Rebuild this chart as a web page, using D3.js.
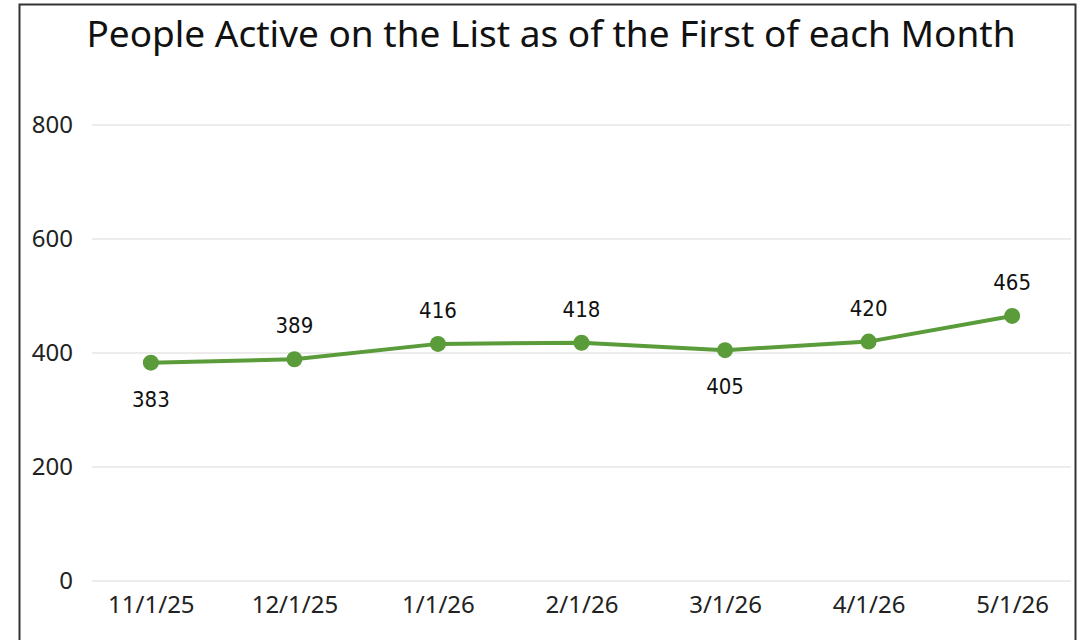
<!DOCTYPE html>
<html>
<head>
<meta charset="utf-8">
<script src="https://cdn.jsdelivr.net/npm/d3@7"></script>
<style>
	body { margin: 0; background: #fff; }
	svg { display: block; }
</style>
</head>
<body>
<script>
let months = ['11/1/25', '12/1/25', '1/1/26', '2/1/26', '3/1/26', '4/1/26', '5/1/26']
let active = [383, 389, 416, 418, 405, 420, 465]
// which side each data label sits on
let labelSide = ['below', 'above', 'above', 'above', 'below', 'above', 'above']
let yTicks = [0, 200, 400, 600, 800]

let width = 1084, height = 640
let green = '#5a9b3a'
let font = 'Noto Sans, Open Sans, sans-serif'

let svg = d3.select('body').append('svg')
	.attr('width', width)
	.attr('height', height)

// frame
svg.append('rect')
	.attr('x', 19.5).attr('y', 4.5)
	.attr('width', 1056).attr('height', 650)
	.attr('fill', 'none')
	.attr('stroke', '#333')
	.attr('stroke-width', 2)

svg.append('text')
	.attr('x', 551).attr('y', 47)
	.attr('text-anchor', 'middle')
	.attr('font-family', font)
	.attr('font-size', 37)
	.attr('fill', '#111')
	.text('People Active on the List as of the First of each Month')

let left = 92, right = 1071
let x = d3.scalePoint()
	.domain(months)
	.range([left, right])
	.padding(0.41)

let y = d3.scaleLinear()
	.domain([0, 800])
	.range([581, 125])

// grid
let grid = svg.append('g')
grid.selectAll('line').data(yTicks).join('line')
	.attr('x1', left).attr('x2', right)
	.attr('y1', d => y(d)).attr('y2', d => y(d))
	.attr('stroke', '#e6e6e6')
	.attr('stroke-width', 1.5)

let yAxis = svg.append('g')
	.attr('transform', `translate(${left},0)`)
	.call(d3.axisLeft(y).tickValues(yTicks).tickSize(0).tickPadding(19))
yAxis.select('.domain').remove()
yAxis.selectAll('text')
	.attr('font-family', font)
	.attr('font-size', 24)
	.attr('fill', '#222')

let xAxis = svg.append('g')
	.attr('transform', `translate(0,${y(0)})`)
	.call(d3.axisBottom(x).tickSize(0).tickPadding(15))
xAxis.select('.domain').remove()
xAxis.selectAll('text')
	.attr('font-family', font)
	.attr('font-size', 24)
	.attr('fill', '#222')

let pts = months.map((m, i) => ({ m, v: active[i], side: labelSide[i] }))

svg.append('path')
	.datum(pts)
	.attr('fill', 'none')
	.attr('stroke', green)
	.attr('stroke-width', 4)
	.attr('stroke-linejoin', 'round')
	.attr('d', d3.line().x(d => x(d.m)).y(d => y(d.v)))

svg.selectAll('circle.pt').data(pts).join('circle')
	.attr('class', 'pt')
	.attr('cx', d => x(d.m))
	.attr('cy', d => y(d.v))
	.attr('r', 8)
	.attr('fill', green)

svg.selectAll('text.lbl').data(pts).join('text')
	.attr('class', 'lbl')
	.attr('x', d => x(d.m))
	.attr('y', d => y(d.v) + (d.side === 'above' ? -26 : 44))
	.attr('text-anchor', 'middle')
	.attr('font-family', 'DejaVu Sans Condensed, DejaVu Sans, sans-serif')
	.attr('font-size', 22)
	.attr('fill', '#111')
	.text(d => d.v)
</script>
</body>
</html>
